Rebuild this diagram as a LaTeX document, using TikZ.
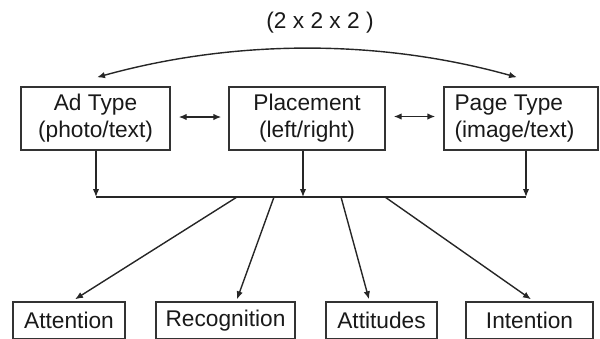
\documentclass[tikz,border=0pt]{standalone}
\usepackage{fontspec}
\setmainfont{Liberation Sans}
\usetikzlibrary{arrows.meta,calc}
\begin{document}
\begin{tikzpicture}[x=1pt,y=-1pt,
  txt/.style={font=\fontsize{22.7}{27}\selectfont,text=black!90},
  box/.style={draw=black!80,line width=1.4pt,inner sep=0pt,align=center,txt},
  topbox/.style={box,minimum height=63pt},
  botbox/.style={box,minimum height=37pt},
  tip/.style={-{Latex[length=8pt,width=6.5pt]}},
  arr/.style={line width=1.4pt,draw=black!85,tip},
  darr/.style={line width=1.4pt,draw=black!85,{Latex[length=8pt,width=6.5pt]}-{Latex[length=8pt,width=6.5pt]}},
  ln/.style={line width=1.4pt,draw=black!85}]
\useasboundingbox (0,0) rectangle (600,338);
\node[txt] (title) at (320,23) {(2 x 2 x 2 )};
\node[topbox,minimum width=149pt] (ad) at (95.5,118.5) {Ad Type\\(photo/text)};
\node[topbox,minimum width=156pt] (pl) at (307,118.5) {Placement\\(left/right)};
\node[topbox,minimum width=154pt] (pg) at (521,118.5) {};
\node[txt,align=left,inner sep=0pt,anchor=west] (pgt) at ($(pg.west)+(11,0)$) {Page Type\\(image/text)};
\node[botbox,minimum width=112pt] (att) at (69,320.5) {Attention};
\node[botbox,minimum width=139pt] (rec) at (225.5,320.5) {Recognition};
\node[botbox,minimum width=111pt] (atu) at (381.5,320.5) {Attitudes};
\node[botbox,minimum width=127pt] (int) at (529.5,320.5) {Intention};
% curved arrow
\coordinate (c1) at ($(ad.north)+(1.5,-9)$);
\coordinate (c2) at ($(pg.north)+(-4,-9)$);
\draw[darr] (c1) .. controls (235,39) and (380,39) .. (c2);
% double arrows
\draw[darr] ($(ad.east)+(8,-1.5)$) -- ($(pl.west)+(-7,-1.5)$);
\draw[darr] ($(pl.east)+(8,-2)$) -- ($(pg.west)+(-8,-2)$);
% bus
\coordinate (b1) at (96,197);
\coordinate (b2) at (303,197);
\coordinate (b3) at (526,197);
\draw[ln] (b1) -- (b3);
\draw[arr] (ad.south -| b1) -- (b1);
\draw[arr] (pl.south -| b2) -- (b2);
\draw[arr] (pg.south -| b3) -- (b3);
% outputs
\coordinate (s1) at (237,197);
\coordinate (s2) at (274,197);
\coordinate (s3) at (341,197);
\coordinate (s4) at (385,197);
\draw[arr] (s1) -- ($(att.north)+(6,-2)$);
\draw[arr] (s2) -- ($(rec.north)+(11.5,-2)$);
\draw[arr] (s3) -- ($(atu.north)+(-12.5,-2)$);
\draw[arr] (s4) -- ($(int.north)+(1.5,-2)$);
\end{tikzpicture}
\end{document}
